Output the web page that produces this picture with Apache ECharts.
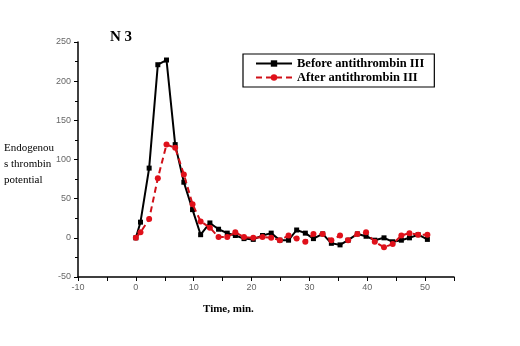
<!DOCTYPE html>
<html>
<head>
<meta charset="utf-8">
<script src="https://cdn.jsdelivr.net/npm/echarts@6/dist/echarts.min.js"></script>
<style>
  html, body { margin: 0; padding: 0; background: #fff; }
  #chart { width: 520px; height: 346px; }
</style>
</head>
<body>
<div id="chart"></div>
<script>
// sampling times (min)
var times = [0, 0.8, 2.3, 3.8, 5.3, 6.8, 8.3, 9.8, 11.2, 12.8, 14.3, 15.8, 17.2, 18.7, 20.3, 21.9, 23.4, 24.9,
  26.4, 27.8, 29.3, 30.7, 32.3, 33.8, 35.3, 36.7, 38.3, 39.8, 41.3, 42.9, 44.4, 45.9, 47.3, 48.8, 50.4]
var before = [0, 20, 89, 221, 227, 119, 71, 36, 4, 19, 11, 6, 3, -1, -2, 3, 6, -3, -3, 10, 6, -1, 5, -7,
  -9, -3, 5, 2, -3, 0, -5, -3, 0, 4, -2]
var after = [0, 7, 24, 76, 119, 115, 81, 43, 21, 13, 1, 1, 7, 1, 0, 1, 0, -3, 3, -1, -5, 5, 5, -3,
  3, -3, 5, 7, -5, -12, -8, 3, 6, 4, 4]

var serif = '"Liberation Serif", "DejaVu Serif", serif'

function pairs(vals) {
  return vals.map(function (v, i) { return [times[i], v] })
}

var chart = echarts.init(document.getElementById('chart'))
chart.setOption({
  animation: false,
  backgroundColor: '#fff',
  title: {
    text: 'N 3',
    left: 105,
    top: 25,
    textStyle: { fontFamily: serif, fontSize: 15, fontWeight: 'bold', color: '#000' }
  },
  legend: {
    orient: 'vertical',
    left: 243,
    top: 54,
    padding: [3, 10, 3, 12],
    itemGap: 1,
    itemWidth: 36,
    itemHeight: 8,
    borderColor: '#000',
    borderWidth: 1.2,
    borderRadius: 0,
    textStyle: { fontFamily: serif, fontSize: 12.5, fontWeight: 'bold', color: '#000' },
    data: ['Before antithrombin III', 'After antithrombin III']
  },
  grid: { left: 78, right: 66, top: 42, bottom: 69 },
  xAxis: {
    type: 'value',
    min: -10,
    max: 55,
    interval: 10,
    axisLine: { onZero: false, lineStyle: { color: '#000', width: 1.5 } },
    axisTick: { length: 4, lineStyle: { color: '#000' } },
    minorTick: { show: true, splitNumber: 2, length: 4, lineStyle: { color: '#000' } },
    splitLine: { show: false },
    axisLabel: { showMaxLabel: false, fontSize: 9, color: '#666', margin: 6 }
  },
  yAxis: {
    type: 'value',
    min: -50,
    max: 250,
    interval: 50,
    axisLine: { show: true, onZero: false, lineStyle: { color: '#000', width: 1.5 } },
    axisTick: { show: true, length: 4, lineStyle: { color: '#000' } },
    minorTick: { show: true, splitNumber: 2, length: 3, lineStyle: { color: '#000' } },
    splitLine: { show: false },
    axisLabel: { fontSize: 9, color: '#666', margin: 7 }
  },
  graphic: [
    {
      type: 'text',
      left: 4,
      top: 140,
      style: {
        text: 'Endogenou\ns thrombin\npotential',
        font: '11px ' + serif,
        lineHeight: 16,
        fill: '#000'
      }
    },
    {
      type: 'text',
      left: 203,
      top: 304,
      style: {
        text: 'Time, min.',
        font: 'bold 11px ' + serif,
        fill: '#000'
      }
    }
  ],
  series: [
    {
      name: 'Before antithrombin III',
      type: 'line',
      data: pairs(before),
      symbol: 'rect',
      symbolSize: 5,
      itemStyle: { color: '#000' },
      lineStyle: { color: '#000', width: 2 },
      z: 2
    },
    {
      name: 'After antithrombin III',
      type: 'line',
      data: pairs(after),
      symbol: 'circle',
      symbolSize: 6,
      itemStyle: { color: '#e0101a' },
      lineStyle: { color: '#d01018', width: 2, type: [6, 4] },
      z: 3
    }
  ]
})
</script>
</body>
</html>
